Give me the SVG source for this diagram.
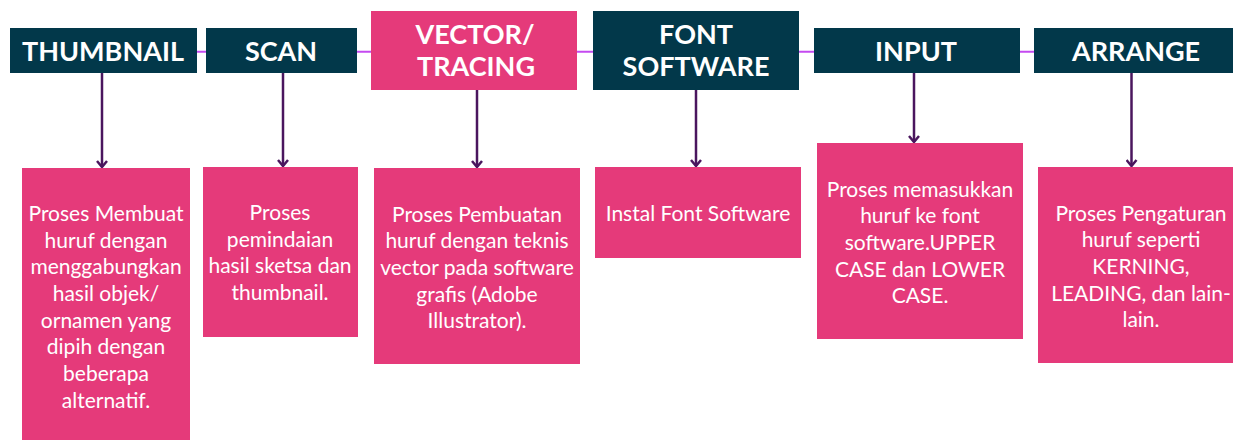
<svg xmlns="http://www.w3.org/2000/svg" width="1233" height="440" viewBox="0 0 1233 440">
<style>
.hd{fill:#02384A}
.pk{fill:#E53A7A}
.t{font-family:Lato,"Open Sans",sans-serif;fill:#FFFFFF;text-anchor:middle}
.tt{font-size:27px;font-weight:bold}
.bt{font-size:21px}
.hl{stroke:#C44AF0;stroke-width:2;fill:none}
.ar{stroke:#4A165E;stroke-width:2.5;fill:none;marker-end:url(#ah)}
</style>
<defs>
<marker id="ah" viewBox="0 0 12 12" refX="11" refY="6" markerWidth="12" markerHeight="12" markerUnits="userSpaceOnUse" orient="auto">
<path d="M5,1 L11,6 L5,11" stroke="#4A165E" stroke-width="2.5" fill="none"/>
</marker>
</defs>
<g id="connectors">
<line class="hl" x1="197" y1="51.7" x2="1034" y2="51.7"/>
<line class="ar" x1="102" y1="73" x2="102" y2="167"/>
<line class="ar" x1="283" y1="73" x2="283" y2="166"/>
<line class="ar" x1="477" y1="90" x2="477" y2="167"/>
<line class="ar" x1="696" y1="90" x2="696" y2="166"/>
<line class="ar" x1="914" y1="73" x2="914" y2="142"/>
<line class="ar" x1="1131.5" y1="73" x2="1131.5" y2="166"/>
</g>
<g id="thumbnail"><rect class="hd" x="10" y="28" width="187" height="45"/><text class="t tt" x="103" y="61">THUMBNAIL</text></g>
<g id="scan"><rect class="hd" x="206" y="28" width="151" height="45"/><text class="t tt" x="281" y="61">SCAN</text></g>
<g id="vector"><rect class="pk" x="371" y="11" width="206" height="79"/><text class="t tt" x="475" y="43.7">VECTOR/</text><text class="t tt" x="476" y="76">TRACING</text></g>
<g id="font"><rect class="hd" x="593" y="11" width="206" height="79"/><text class="t tt" x="696" y="43.7">FONT</text><text class="t tt" x="696" y="76">SOFTWARE</text></g>
<g id="input"><rect class="hd" x="814" y="28" width="206" height="45"/><text class="t tt" x="916" y="61">INPUT</text></g>
<g id="arrange"><rect class="hd" x="1034" y="28" width="210" height="45"/><text class="t tt" x="1136" y="61">ARRANGE</text></g>
<g id="desc-thumbnail"><rect class="pk" x="22" y="168" width="168" height="272"/>
<text class="t bt" x="106"><tspan x="106" y="221">Proses Membuat</tspan><tspan x="106" y="247.7">huruf dengan</tspan><tspan x="106" y="274.3">menggabungkan</tspan><tspan x="106" y="301">hasil objek/</tspan><tspan x="106" y="327.7">ornamen yang</tspan><tspan x="106" y="354.3">dipih dengan</tspan><tspan x="106" y="381">beberapa</tspan><tspan x="106" y="407.7">alternatif.</tspan></text></g>
<g id="desc-scan"><rect class="pk" x="203" y="167" width="155" height="170"/>
<text class="t bt" x="280"><tspan x="280" y="220">Proses</tspan><tspan x="280" y="246.7">pemindaian</tspan><tspan x="280" y="273.3">hasil sketsa dan</tspan><tspan x="280" y="300">thumbnail.</tspan></text></g>
<g id="desc-vector"><rect class="pk" x="374" y="168" width="206" height="196"/>
<text class="t bt" x="477"><tspan x="477" y="221.7">Proses Pembuatan</tspan><tspan x="477" y="248">huruf dengan teknis</tspan><tspan x="477" y="275">vector pada software</tspan><tspan x="477" y="301.7">grafis (Adobe</tspan><tspan x="477" y="327.7">Illustrator).</tspan></text></g>
<g id="desc-font"><rect class="pk" x="595" y="167" width="206" height="91"/>
<text class="t bt" x="698" y="221">Instal Font Software</text></g>
<g id="desc-input"><rect class="pk" x="817" y="143" width="206" height="196"/>
<text class="t bt" x="920"><tspan x="920" y="196.7">Proses memasukkan</tspan><tspan x="920" y="222.7">huruf ke font</tspan><tspan x="920" y="250">software.UPPER</tspan><tspan x="920" y="276.7">CASE dan LOWER</tspan><tspan x="920" y="302.7">CASE.</tspan></text></g>
<g id="desc-arrange"><rect class="pk" x="1038" y="167" width="206" height="196"/>
<text class="t bt" x="1141"><tspan x="1141" y="220.7">Proses Pengaturan</tspan><tspan x="1141" y="247.3">huruf seperti</tspan><tspan x="1141" y="274.3">KERNING,</tspan><tspan x="1141" y="300.7">LEADING, dan lain-</tspan><tspan x="1141" y="326.7">lain.</tspan></text></g>
</svg>
